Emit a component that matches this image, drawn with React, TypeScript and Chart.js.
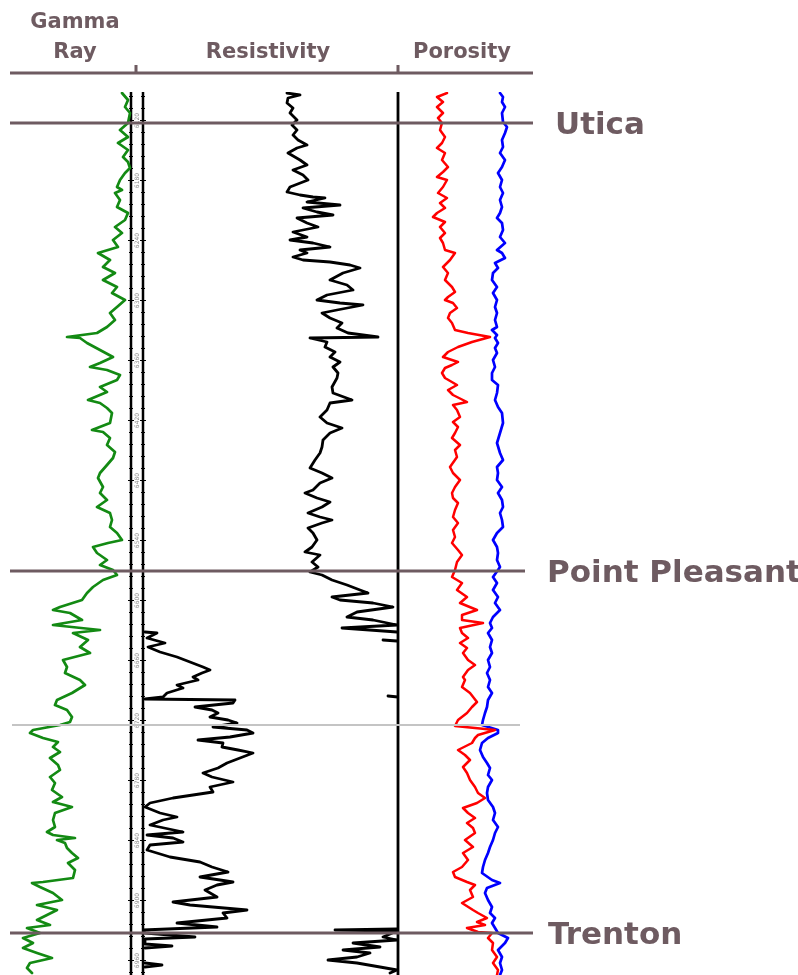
import React, { useEffect, useRef } from "react";
import { Chart, registerables } from "chart.js";

Chart.register(...registerables);

// ---------------- data (depth in ft, value in curve units) ----------------
const TRACK_TITLES: string[][] = [["Gamma", "Ray"], ["Resistivity"], ["Porosity"]];
const FORMATION_NAMES = ["Utica", "Point Pleasant", "Trenton"];
const FORMATION_TOPS = [6123, 6571, 6933];
const MARKER_DEPTH = 6725; // unlabelled grey marker
const DEPTH_RANGE = [6092, 6975];

// Gamma ray [depth ft, API]
const GR_LOG: [number, number][] = [
  [6093, 112], [6100, 118], [6107, 115], [6113, 120], [6123, 118], [6130, 110], [6137, 118], [6143, 108], [6150, 118], [6157, 113],
  [6162, 118], [6168, 120], [6173, 115], [6180, 110], [6187, 107], [6190, 112], [6193, 105], [6200, 110], [6207, 107], [6213, 118],
  [6220, 115], [6227, 105], [6233, 112], [6240, 103], [6247, 108], [6253, 88], [6260, 100], [6267, 93], [6273, 105], [6280, 93],
  [6287, 107], [6293, 102], [6300, 115], [6307, 107], [6313, 100], [6320, 105], [6327, 97], [6333, 87], [6337, 57], [6338, 70],
  [6343, 77], [6350, 90], [6357, 103], [6363, 90], [6367, 80], [6370, 97], [6375, 110], [6380, 107], [6387, 90], [6392, 97],
  [6400, 78], [6403, 90], [6408, 97], [6413, 102], [6423, 100], [6430, 82], [6432, 93], [6438, 100], [6445, 97], [6452, 105],
  [6458, 103], [6465, 97], [6473, 90], [6478, 88], [6487, 93], [6493, 90], [6500, 97], [6507, 87], [6513, 100], [6520, 102],
  [6527, 100], [6533, 107], [6540, 112], [6543, 98], [6547, 83], [6553, 87], [6560, 97], [6565, 90], [6570, 103], [6575, 107],
  [6580, 93], [6587, 83], [6593, 77], [6600, 72], [6607, 50], [6610, 43], [6613, 60], [6620, 72], [6625, 43], [6630, 90],
  [6633, 63], [6640, 78], [6647, 70], [6653, 80], [6660, 53], [6667, 57], [6673, 55], [6680, 70], [6685, 75], [6693, 62],
  [6700, 47], [6705, 45], [6710, 57], [6717, 62], [6722, 60], [6725, 50], [6730, 23], [6733, 20], [6738, 33], [6742, 48],
  [6747, 43], [6752, 50], [6758, 40], [6765, 48], [6770, 50], [6777, 40], [6783, 45], [6790, 42], [6797, 52], [6802, 43],
  [6807, 62], [6813, 45], [6820, 43], [6827, 45], [6832, 37], [6835, 43], [6838, 65], [6840, 47], [6843, 55], [6848, 57],
  [6853, 62], [6858, 68], [6863, 58], [6870, 65], [6878, 63], [6880, 48], [6882, 33], [6883, 22], [6887, 30], [6893, 43],
  [6900, 52], [6905, 27], [6910, 47], [6915, 37], [6920, 27], [6925, 40], [6928, 17], [6933, 30], [6938, 13], [6943, 23],
  [6948, 13], [6953, 27], [6958, 42], [6963, 20], [6968, 17], [6973, 22],
];

// Resistivity [depth ft, ohm-m] (null = off scale)
const RES_LOG: [number, number | null][] = [
  [6093, 28.8], [6095, 31.4], [6098, 29.0], [6103, 28.8], [6108, 30.0], [6113, 29.4], [6120, 30.8], [6125, 29.8], [6130, 30.8], [6135, 30.0],
  [6140, 31.0], [6145, 32.8], [6148, 30.8], [6153, 29.0], [6160, 31.4], [6165, 32.8], [6170, 30.0], [6175, 32.0], [6180, 33.0], [6187, 29.4],
  [6192, 28.8], [6195, 31.4], [6197, 34.0], [6198, 36.4], [6202, 32.8], [6205, 39.4], [6208, 32.0], [6212, 34.8], [6215, 38.0], [6218, 30.8],
  [6223, 32.8], [6227, 35.0], [6232, 30.0], [6237, 32.8], [6240, 29.4], [6243, 34.0], [6247, 37.4], [6250, 31.4], [6253, 32.8], [6257, 30.0],
  [6260, 32.0], [6262, 37.4], [6265, 41.4], [6268, 43.4], [6273, 40.0], [6280, 37.4], [6285, 40.8], [6290, 42.0], [6295, 36.8], [6300, 34.8],
  [6303, 39.4], [6305, 44.0], [6310, 38.8], [6313, 35.8], [6318, 37.4], [6323, 39.8], [6328, 38.8], [6333, 41.0], [6337, 47.0], [6338, 33.4],
  [6342, 36.8], [6347, 36.4], [6352, 38.4], [6357, 37.4], [6362, 39.4], [6367, 38.0], [6373, 39.0], [6378, 38.8], [6387, 37.8], [6393, 38.0],
  [6400, 41.8], [6403, 37.4], [6410, 36.8], [6417, 35.4], [6423, 36.8], [6428, 39.8], [6433, 37.4], [6440, 36.0], [6447, 35.8], [6453, 35.4],
  [6460, 34.4], [6468, 33.4], [6473, 35.8], [6478, 37.8], [6483, 35.4], [6490, 34.0], [6493, 32.4], [6498, 34.8], [6502, 37.4], [6507, 35.8],
  [6513, 33.0], [6517, 35.4], [6520, 37.8], [6523, 35.8], [6528, 33.0], [6533, 34.0], [6540, 34.8], [6547, 33.8], [6552, 32.4], [6555, 35.4],
  [6562, 33.8], [6567, 35.0], [6572, 33.4], [6575, 35.8], [6580, 37.8], [6585, 40.8], [6590, 43.4], [6593, 45.0], [6597, 37.8], [6600, 39.4],
  [6603, 46.0], [6607, 50.0], [6612, 42.8], [6617, 40.8], [6620, 46.0], [6625, 50.8], [6628, 39.8], [6632, 50.8], [6633, null], [6640, 48.0],
  [6641, 50.8], [6642, null], [6696, 49.0], [6697, 51.0], [6698, null], [6929, 50.8], [6930, 38.4], [6931, 50.8], [6937, 48.0], [6940, 50.8],
  [6943, 42.0], [6947, 47.4], [6950, 40.0], [6953, 45.4], [6957, 42.8], [6960, 37.0], [6963, 42.8], [6967, 47.4], [6970, 50.8], [6973, 49.4],
];

// Resistivity on backup (x10) scale [depth ft, ohm-m]
const RES_BACKUP_LOG: [number, number | null][] = [
  [6632, 4], [6633, 28], [6638, 8], [6643, 44], [6647, 10], [6652, 34], [6657, 68], [6662, 94], [6667, 120], [6670, 134],
  [6673, 118], [6677, 100], [6680, 110], [6685, 68], [6688, 80], [6693, 48], [6697, 40], [6699, 4], [6700, 184], [6703, 180],
  [6707, 104], [6710, 138], [6713, 150], [6717, 134], [6720, 170], [6723, 188], [6727, 140], [6730, 208], [6733, 220], [6737, 174],
  [6740, 110], [6743, 160], [6747, 158], [6750, 190], [6753, 220], [6758, 194], [6763, 168], [6768, 150], [6773, 120], [6777, 138],
  [6782, 180], [6787, 134], [6792, 140], [6795, 100], [6798, 60], [6803, 14], [6807, 4], [6813, 34], [6817, 68], [6820, 40],
  [6825, 14], [6832, 80], [6835, 8], [6838, 60], [6842, 80], [6845, 14], [6850, 8], [6857, 54], [6862, 114], [6867, 138],
  [6872, 170], [6877, 114], [6880, 154], [6882, 180], [6885, 148], [6890, 124], [6897, 148], [6902, 60], [6905, 94], [6910, 208],
  [6913, 160], [6918, 168], [6923, 68], [6927, 148], [6930, 0], [6933, 4], [6937, 104], [6939, 4], [6944, 4], [6946, 58],
  [6948, 4], [6949, null], [6963, 4], [6965, 38], [6967, 4],
];

// Neutron porosity (red) [depth ft, %]
const NPHI_LOG: [number, number][] = [
  [6093, 17.2], [6097, 19.2], [6102, 18.0], [6107, 19.2], [6113, 18.0], [6118, 19.0], [6123, 18.2], [6130, 18.6], [6137, 17.6], [6143, 18.2],
  [6148, 19.2], [6153, 17.6], [6160, 18.2], [6167, 17.0], [6172, 18.0], [6177, 19.2], [6180, 17.2], [6187, 18.0], [6193, 19.0], [6198, 17.2],
  [6203, 18.6], [6208, 17.6], [6213, 19.2], [6217, 20.0], [6222, 17.6], [6227, 18.6], [6233, 17.6], [6238, 18.6], [6243, 18.0], [6250, 17.6],
  [6253, 15.6], [6260, 16.6], [6267, 18.0], [6273, 17.0], [6280, 17.6], [6287, 16.2], [6292, 15.6], [6297, 17.0], [6300, 17.6], [6303, 16.0],
  [6308, 15.2], [6313, 16.6], [6318, 17.0], [6323, 16.2], [6330, 15.6], [6333, 13.0], [6337, 8.6], [6342, 12.2], [6347, 15.0], [6352, 17.0],
  [6357, 18.0], [6362, 15.0], [6365, 16.2], [6368, 17.6], [6373, 18.2], [6378, 17.6], [6385, 15.2], [6390, 17.0], [6395, 16.0], [6402, 13.2],
  [6405, 16.0], [6410, 15.2], [6417, 14.6], [6422, 16.0], [6427, 15.0], [6433, 15.6], [6438, 16.2], [6445, 14.6], [6450, 15.6], [6457, 15.2],
  [6467, 16.6], [6473, 16.0], [6480, 14.6], [6487, 15.6], [6493, 16.2], [6498, 16.0], [6503, 15.0], [6510, 15.6], [6517, 16.0], [6523, 15.0],
  [6530, 16.0], [6537, 15.6], [6543, 16.2], [6550, 15.0], [6555, 14.2], [6562, 15.2], [6570, 15.6], [6577, 16.2], [6583, 14.2], [6590, 15.2],
  [6597, 13.2], [6603, 14.6], [6610, 11.2], [6615, 14.2], [6620, 14.2], [6623, 10.0], [6628, 14.6], [6633, 14.2], [6638, 13.0], [6643, 14.6],
  [6648, 13.2], [6653, 14.0], [6660, 13.0], [6665, 11.6], [6670, 13.0], [6677, 14.0], [6680, 13.6], [6687, 14.2], [6693, 12.6], [6702, 11.2],
  [6707, 12.2], [6713, 13.2], [6720, 15.0], [6726, 15.6], [6728, 11.6], [6730, 7.6], [6735, 11.0], [6738, 11.6], [6743, 12.2], [6750, 15.0],
  [6755, 13.6], [6760, 12.6], [6767, 14.0], [6773, 13.2], [6780, 12.6], [6787, 11.6], [6793, 11.0], [6798, 9.6], [6803, 11.2], [6808, 14.0],
  [6813, 13.0], [6818, 11.6], [6823, 13.2], [6828, 12.0], [6833, 11.6], [6840, 13.6], [6847, 12.0], [6853, 14.0], [6860, 13.0], [6867, 14.2],
  [6872, 16.0], [6877, 15.6], [6882, 13.2], [6885, 11.6], [6890, 12.6], [6897, 12.0], [6903, 14.2], [6910, 12.0], [6913, 11.0], [6918, 9.2],
  [6922, 11.2], [6925, 9.6], [6928, 13.2], [6932, 11.0], [6933, 8.2], [6938, 9.0], [6943, 8.0], [6950, 8.2], [6957, 7.2], [6963, 8.0],
  [6970, 7.0], [6975, 7.2],
];

// Density porosity (blue) [depth ft, %]
const DPHI_LOG: [number, number][] = [
  [6093, 6.6], [6097, 6.0], [6102, 6.2], [6107, 5.6], [6113, 6.2], [6122, 6.0], [6127, 5.2], [6133, 5.6], [6140, 6.2], [6147, 6.0],
  [6153, 6.6], [6160, 5.6], [6167, 6.2], [6173, 7.0], [6180, 6.2], [6187, 6.6], [6193, 6.0], [6200, 6.6], [6207, 6.2], [6213, 6.6],
  [6218, 7.2], [6223, 6.2], [6230, 6.0], [6237, 6.6], [6243, 5.6], [6250, 7.2], [6253, 6.2], [6258, 5.6], [6263, 7.6], [6268, 7.0],
  [6273, 8.0], [6280, 8.2], [6287, 7.2], [6293, 8.0], [6300, 7.2], [6307, 7.6], [6313, 7.2], [6320, 7.6], [6327, 7.2], [6330, 8.2],
  [6335, 7.2], [6338, 7.6], [6343, 7.0], [6348, 7.6], [6353, 7.2], [6360, 8.0], [6367, 7.6], [6373, 8.2], [6380, 8.2], [6385, 7.0],
  [6393, 7.2], [6400, 7.6], [6407, 7.0], [6413, 6.2], [6423, 6.0], [6433, 6.6], [6443, 7.2], [6453, 6.6], [6460, 6.0], [6467, 7.2],
  [6473, 7.0], [6480, 7.2], [6487, 6.2], [6493, 7.0], [6500, 6.2], [6507, 6.0], [6513, 6.6], [6520, 6.2], [6527, 6.0], [6533, 7.2],
  [6540, 8.0], [6547, 7.2], [6553, 7.0], [6560, 7.2], [6567, 6.6], [6570, 7.0], [6577, 8.0], [6583, 7.2], [6590, 8.0], [6597, 7.0],
  [6603, 7.6], [6610, 6.6], [6617, 8.0], [6623, 8.6], [6628, 8.2], [6633, 9.0], [6640, 8.2], [6647, 8.6], [6653, 8.2], [6660, 9.0],
  [6667, 8.6], [6673, 9.2], [6680, 8.6], [6687, 9.0], [6693, 8.2], [6700, 9.0], [6707, 9.2], [6713, 9.6], [6720, 10.0], [6725, 10.2],
  [6730, 7.0], [6733, 7.0], [6738, 9.0], [6743, 10.2], [6750, 10.6], [6757, 10.0], [6763, 9.2], [6768, 8.6], [6775, 9.0], [6780, 8.2],
  [6787, 9.0], [6793, 9.2], [6800, 9.0], [6807, 8.0], [6813, 7.6], [6820, 8.0], [6827, 7.0], [6833, 7.6], [6840, 8.0], [6847, 8.6],
  [6853, 9.0], [6860, 9.6], [6867, 10.0], [6873, 10.2], [6880, 8.2], [6883, 6.6], [6888, 9.2], [6893, 9.6], [6900, 9.0], [6907, 8.2],
  [6913, 8.6], [6918, 7.6], [6923, 8.2], [6928, 7.6], [6933, 7.0], [6938, 5.0], [6943, 5.6], [6950, 7.0], [6957, 6.2], [6963, 6.6],
  [6970, 6.2], [6975, 6.6],
];

// ---------------- layout & style ----------------
const W = 798;
const H = 975;
const INK = "#6e5b61";
const PLOT_TOP = 92;

// value-at-left / value-at-right mapped onto pixel bounds of each track
const TRACKS = {
  gr: { vLeft: 0, vRight: 120, pxLeft: 10, pxRight: 130, clipL: 8, clipR: 132 },
  res: { vLeft: 0, vRight: 51, pxLeft: 143, pxRight: 398, clipL: 143, clipR: 398 },
  resBk: { vLeft: 0, vRight: 510, pxLeft: 143, pxRight: 398, clipL: 143, clipR: 398 },
  por: { vLeft: 27, vRight: 0, pxLeft: 398, pxRight: 533, clipL: 398, clipR: 536 },
};

function trackScale(t: { vLeft: number; vRight: number; pxLeft: number; pxRight: number }) {
  const s = (t.vRight - t.vLeft) / (t.pxRight - t.pxLeft);
  const atZero = t.vLeft - t.pxLeft * s;
  const atW = t.vLeft + (W - t.pxLeft) * s;
  if (s > 0) return { min: atZero, max: atW, reverse: false };
  return { min: atW, max: atZero, reverse: true };
}

function curve(label: string, log: [number, number | null][], axis: string, color: string, width: number, t: any) {
  return {
    label,
    data: log.map(([d, v]) => ({ x: v, y: d })),
    xAxisID: axis,
    yAxisID: "y",
    borderColor: color,
    backgroundColor: color,
    borderWidth: width,
    showLine: true,
    spanGaps: false,
    pointRadius: 0,
    pointHoverRadius: 0,
    tension: 0,
    borderJoinStyle: "round" as const,
    borderCapStyle: "round" as const,
    clip: { left: -t.clipL, right: -(W - t.clipR), top: 0, bottom: 0 },
  };
}

const logOverlay = {
  id: "logOverlay",
  beforeDatasetsDraw(chart: any) {
    const { ctx } = chart;
    const ys = chart.scales.y;
    const top = ys.top;
    const bottom = ys.bottom;
    ctx.save();
    ctx.strokeStyle = "#000";
    const borders: [number, number][] = [[131, 2.5], [143, 2.5], [398, 2.8]];
    borders.forEach(([x, w]) => {
      ctx.lineWidth = w;
      ctx.beginPath();
      ctx.moveTo(x, top);
      ctx.lineTo(x, bottom);
      ctx.stroke();
    });
    // depth track ticks and labels
    ctx.lineWidth = 1;
    for (let d = Math.ceil(DEPTH_RANGE[0] / 12) * 12; d <= DEPTH_RANGE[1]; d += 12) {
      const py = Math.round(ys.getPixelForValue(d)) + 0.5;
      const major = d % 60 === 0;
      const len = major ? 3 : 2;
      ctx.beginPath();
      ctx.moveTo(131 - len, py);
      ctx.lineTo(131 + len, py);
      ctx.moveTo(143 - len, py);
      ctx.lineTo(143 + len, py);
      ctx.stroke();
      if (major) {
        ctx.save();
        ctx.translate(137, py);
        ctx.rotate(-Math.PI / 2);
        ctx.fillStyle = "#8c8c8c";
        ctx.font = "6px 'DejaVu Sans'";
        ctx.textAlign = "center";
        ctx.textBaseline = "middle";
        ctx.fillText(String(d), 0, 0);
        ctx.restore();
      }
    }
    ctx.restore();
  },
  afterDatasetsDraw(chart: any) {
    const { ctx } = chart;
    const ys = chart.scales.y;
    ctx.save();
    // header
    ctx.fillStyle = INK;
    ctx.font = "bold 21px 'DejaVu Sans'";
    ctx.textAlign = "center";
    ctx.textBaseline = "alphabetic";
    const headerX = [75, 268, 462];
    TRACK_TITLES.forEach((lines, i) => {
      lines.forEach((txt, j) => {
        const by = lines.length === 2 ? (j === 0 ? 27.5 : 58) : 58;
        ctx.fillText(txt, headerX[i], by);
      });
    });
    ctx.fillRect(10, 71.5, 523, 3);
    ctx.fillRect(134.5, 65, 3, 8);
    ctx.fillRect(396.5, 65, 3, 8);

    // grey marker line
    const my = ys.getPixelForValue(MARKER_DEPTH);
    ctx.strokeStyle = "#c4c4c4";
    ctx.lineWidth = 2;
    ctx.beginPath();
    ctx.moveTo(12, my);
    ctx.lineTo(520, my);
    ctx.stroke();

    // formation tops
    const lineEnd = [533, 525, 533];
    const labelX = [555, 547, 548];
    ctx.strokeStyle = INK;
    ctx.lineWidth = 3;
    ctx.font = "bold 31px 'DejaVu Sans'";
    ctx.textAlign = "left";
    FORMATION_TOPS.forEach((d, i) => {
      const py = ys.getPixelForValue(d);
      ctx.beginPath();
      ctx.moveTo(10, py);
      ctx.lineTo(lineEnd[i], py);
      ctx.stroke();
      ctx.fillText(FORMATION_NAMES[i], labelX[i], py + 11);
    });
    ctx.restore();
  },
};

export default function App() {
  const ref = useRef<HTMLCanvasElement | null>(null);

  useEffect(() => {
    document.body.style.margin = "0";
    const canvas = ref.current;
    if (!canvas) return;
    const chart = new Chart(canvas, {
      type: "scatter",
      data: {
        datasets: [
          curve("Gamma Ray", GR_LOG, "xGR", "#138a13", 2.7, TRACKS.gr),
          curve("Resistivity", RES_LOG, "xRes", "#000000", 2.8, TRACKS.res),
          curve("Resistivity (x10)", RES_BACKUP_LOG, "xResBk", "#000000", 2.8, TRACKS.resBk),
          curve("Neutron Porosity", NPHI_LOG, "xPor", "#ff0000", 2.5, TRACKS.por),
          curve("Density Porosity", DPHI_LOG, "xPor", "#0000ff", 2.7, TRACKS.por),
        ] as any,
      },
      options: {
        responsive: false,
        animation: false,
        events: [],
        layout: { padding: { top: PLOT_TOP, left: 0, right: 0, bottom: 0 } },
        plugins: {
          legend: { display: false },
          tooltip: { enabled: false },
          title: { display: false },
        },
        scales: {
          y: { type: "linear", axis: "y", reverse: true, min: DEPTH_RANGE[0], max: DEPTH_RANGE[1], display: false },
          xGR: { type: "linear", axis: "x", position: "bottom", display: false, ...trackScale(TRACKS.gr) },
          xRes: { type: "linear", axis: "x", position: "bottom", display: false, ...trackScale(TRACKS.res) },
          xResBk: { type: "linear", axis: "x", position: "bottom", display: false, ...trackScale(TRACKS.resBk) },
          xPor: { type: "linear", axis: "x", position: "bottom", display: false, ...trackScale(TRACKS.por) },
        } as any,
      },
      plugins: [logOverlay],
    });
    return () => chart.destroy();
  }, []);

  return (
    <div style={{ position: "fixed", left: 0, top: 0, width: W, height: H, background: "#fff" }}>
      <canvas ref={ref} width={W} height={H} style={{ display: "block", width: W, height: H }} />
    </div>
  );
}
